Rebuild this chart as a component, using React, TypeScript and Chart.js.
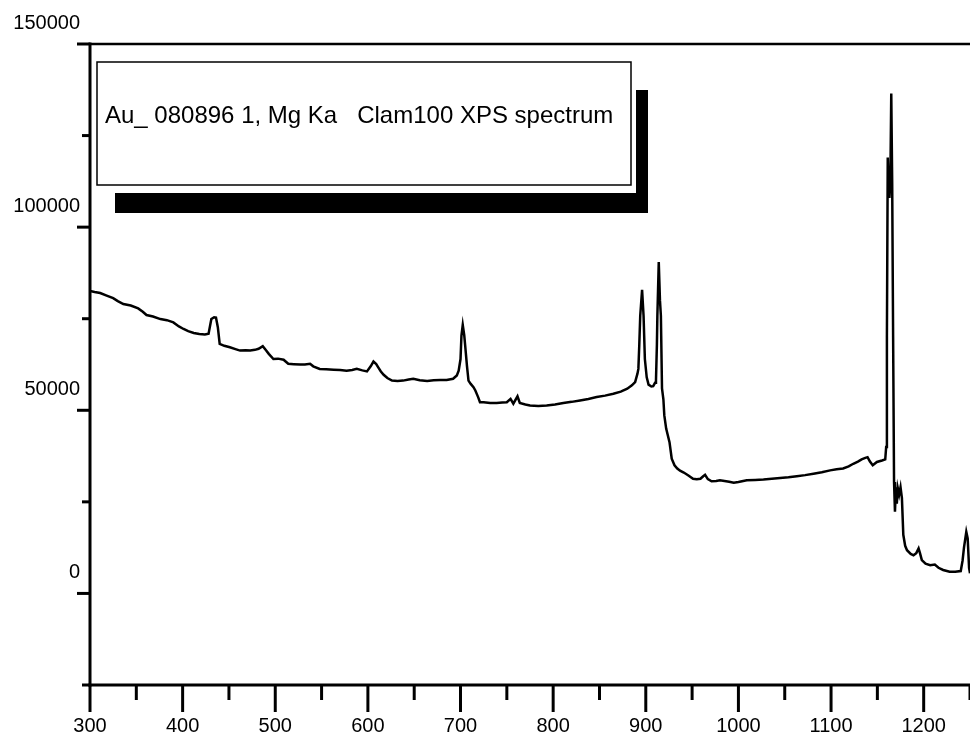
import React, { useEffect, useRef } from "react";
import { Chart, registerables } from "chart.js";

Chart.register(...registerables);

// Binding energy (x) and intensity (y)
const bindingEnergy = [
  300, 305, 311, 318, 325, 330, 336, 344, 352, 357, 361, 368, 376, 383, 390, 396, 401, 406, 412, 418,
  424, 428, 431, 434, 436, 438, 440, 445, 451, 457, 462, 468, 473, 478, 482, 486.5, 490, 493, 498, 503,
  509, 514, 520, 527, 532, 537.6, 541, 548, 555, 563, 570, 577, 583, 588, 594, 599, 603, 606, 609, 611,
  614, 617, 621, 626, 632, 638, 644, 649, 656, 664, 671, 678, 685, 692, 696, 698, 700, 701, 702.4, 704,
  705, 707, 708.6, 711, 714, 716, 719, 721, 725, 732, 739, 745, 750, 754, 757, 761.5, 764, 770, 775, 784,
  793, 802, 811, 820, 829, 838, 847, 856, 865, 873, 880, 885, 888.5, 891, 892, 893, 894, 896, 897.6, 899,
  901, 903, 906, 908, 910, 911, 912, 912.5, 914, 915.3, 916.3, 917.5, 919, 920, 922, 925.6, 928, 931, 934, 937,
  941, 946, 951, 955, 959, 962, 964, 967, 971, 976, 980, 985, 990, 995, 1000, 1009, 1018, 1027, 1036, 1045,
  1054, 1063, 1072, 1081, 1090, 1099, 1106, 1113, 1119, 1124, 1129, 1133, 1137, 1139.4, 1142, 1145, 1149.5, 1155, 1158.5, 1159.5,
  1160.3, 1161.2, 1162, 1163, 1164, 1165, 1166, 1167, 1168, 1169, 1170, 1171, 1172, 1173.5, 1175, 1176.5, 1178, 1180, 1182, 1186,
  1189, 1192, 1194.5, 1196, 1198, 1202, 1207, 1212, 1216, 1221, 1228, 1234, 1240, 1242, 1243.5, 1246, 1247.5, 1249, 1250,
];

const intensity = [
  82600, 82300, 82000, 81300, 80600, 79800, 79000, 78600, 77800, 76900, 76000, 75600, 74900, 74600, 74000, 72900, 72200, 71600, 71100, 70800,
  70700, 70900, 74900, 75400, 75300, 72700, 68100, 67600, 67200, 66700, 66300, 66400, 66300, 66500, 66800, 67500, 66400, 65400, 64000, 64100,
  63800, 62700, 62600, 62500, 62500, 62700, 62000, 61300, 61200, 61100, 61000, 60800, 61000, 61300, 60900, 60600, 62000, 63300, 62600, 61800,
  60600, 59700, 58800, 58100, 58000, 58100, 58400, 58600, 58200, 58000, 58200, 58300, 58300, 58600, 59500, 60800, 64000, 70400, 73300, 70500,
  67700, 62000, 58100, 57200, 56300, 55400, 53600, 52200, 52200, 52000, 52000, 52100, 52200, 53100, 51800, 53800, 52000, 51600, 51300, 51200,
  51300, 51600, 52000, 52300, 52700, 53100, 53600, 54000, 54500, 55100, 55900, 56800, 57700, 60000, 61300, 68000, 75800, 82900, 75800, 64000,
  59000, 57000, 56500, 56600, 57500, 58100, 68000, 75800, 90500, 80000, 75800, 56000, 53000, 48600, 45000, 41300, 36800, 35000, 34100, 33500,
  33000, 32200, 31300, 31200, 31300, 32000, 32400, 31200, 30600, 30700, 30900, 30700, 30500, 30200, 30400, 30900, 31000, 31100, 31300, 31500,
  31700, 32000, 32300, 32700, 33100, 33600, 33900, 34100, 34700, 35400, 36000, 36600, 37000, 37200, 36000, 35000, 35900, 36300, 36600, 40000,
  70000, 119000, 112000, 108000, 112000, 136500, 112000, 70000, 30400, 22300, 29000, 24500, 28800, 27000, 29000, 26000, 16000, 13000, 11800, 10800,
  10400, 11000, 12300, 11000, 9100, 8100, 7700, 7900, 7000, 6400, 5900, 5900, 6100, 9000, 12500, 16800, 15000, 7000, 5500,
];

const titleText = "Au_ 080896 1, Mg Ka   Clam100 XPS spectrum";

const xMin = 300;
const xMax = 1250;
const xMajorStep = 100;
const xMinorStep = 50;
const yMin = -25000;
const yMax = 150000;
const yMajorStep = 50000;
const yMinorStep = 25000;

const FONT = "'Liberation Sans', Arial, Helvetica, sans-serif";

const axesPlugin = {
  id: "xpsAxes",
  afterDraw(chart: any) {
    const { ctx, chartArea: a, scales } = chart;
    const xs = scales.x;
    const ys = scales.y;
    ctx.save();
    ctx.strokeStyle = "#000";
    ctx.lineCap = "butt";

    // frame lines
    ctx.lineWidth = 3;
    ctx.beginPath();
    ctx.moveTo(a.left, a.top - 1.5);
    ctx.lineTo(a.left, a.bottom + 1.5);
    ctx.stroke();
    ctx.beginPath();
    ctx.moveTo(a.left - 1.5, a.bottom);
    ctx.lineTo(a.right, a.bottom);
    ctx.stroke();
    ctx.lineWidth = 2.5;
    ctx.beginPath();
    ctx.moveTo(a.left, a.top);
    ctx.lineTo(a.right, a.top);
    ctx.stroke();

    // y ticks (outward, left)
    ctx.lineWidth = 3;
    ys.ticks.forEach((t: any) => {
      const py = ys.getPixelForValue(t.value);
      const len = t.value % yMajorStep === 0 ? 13 : 8;
      ctx.beginPath();
      ctx.moveTo(a.left - len, py);
      ctx.lineTo(a.left, py);
      ctx.stroke();
    });
    // x ticks (outward, down)
    xs.ticks.forEach((t: any) => {
      const px = xs.getPixelForValue(t.value);
      const len = t.value % xMajorStep === 0 ? 27 : 15;
      ctx.beginPath();
      ctx.moveTo(px, a.bottom);
      ctx.lineTo(px, a.bottom + len);
      ctx.stroke();
    });
    ctx.restore();
  },
};

const titleBoxPlugin = {
  id: "titleBox",
  afterDraw(chart: any) {
    const { ctx, chartArea: a } = chart;
    const L = a.left;
    const T = a.top;
    ctx.save();
    // shadow bars
    ctx.fillStyle = "#000";
    ctx.fillRect(L + 25, T + 149, 533, 20);
    ctx.fillRect(L + 546, T + 46, 12, 123);
    // box
    ctx.fillStyle = "#fff";
    ctx.fillRect(L + 7, T + 18, 534, 123);
    ctx.strokeStyle = "#000";
    ctx.lineWidth = 1.5;
    ctx.strokeRect(L + 7, T + 18, 534, 123);
    // text
    ctx.fillStyle = "#000";
    ctx.font = `24px ${FONT}`;
    ctx.textAlign = "left";
    ctx.textBaseline = "alphabetic";
    ctx.fillText(titleText, L + 15, T + 79);
    ctx.restore();
  },
};

export default function App() {
  const canvasRef = useRef<HTMLCanvasElement | null>(null);

  useEffect(() => {
    document.body.style.margin = "0";
    const canvas = canvasRef.current;
    if (!canvas) return;
    const points = bindingEnergy.map((e, i) => ({ x: e, y: intensity[i] }));
    const chart = new Chart(canvas, {
      type: "line",
      data: {
        datasets: [
          {
            label: "XPS spectrum",
            data: points,
            borderColor: "#000",
            borderWidth: 2.5,
            pointRadius: 0,
            tension: 0,
            fill: false,
          },
        ],
      },
      options: {
        animation: false,
        responsive: false,
        events: [],
        layout: { padding: { top: 44, right: 0, left: 0, bottom: 0 } },
        plugins: {
          legend: { display: false },
          tooltip: { enabled: false },
          title: { display: false },
        },
        scales: {
          x: {
            type: "linear",
            min: xMin,
            max: xMax,
            grid: { display: false, drawTicks: true, tickLength: 29 },
            border: { display: false },
            ticks: {
              stepSize: xMinorStep,
              autoSkip: false,
              maxRotation: 0,
              minRotation: 0,
              padding: 0,
              color: "#000",
              font: { family: FONT, size: 20 },
              callback: (v: any) => (Number(v) % xMajorStep === 0 ? String(v) : ""),
            },
            afterFit: (s: any) => {
              s.height = 55;
            },
          },
          y: {
            type: "linear",
            min: yMin,
            max: yMax,
            grid: { display: false, drawTicks: false, tickLength: 0 },
            border: { display: false },
            ticks: {
              stepSize: yMinorStep,
              autoSkip: false,
              padding: 10,
              labelOffset: -21,
              color: "#000",
              font: { family: FONT, size: 20 },
              callback: (v: any) => (Number(v) % yMajorStep === 0 ? String(v) : ""),
            },
            afterFit: (s: any) => {
              s.width = 90;
            },
          },
        },
      },
      plugins: [axesPlugin, titleBoxPlugin],
    });
    return () => chart.destroy();
  }, []);

  return (
    <div style={{ width: 970, height: 740, background: "#fff" }}>
      <canvas ref={canvasRef} width={970} height={740} style={{ display: "block" }} />
    </div>
  );
}
